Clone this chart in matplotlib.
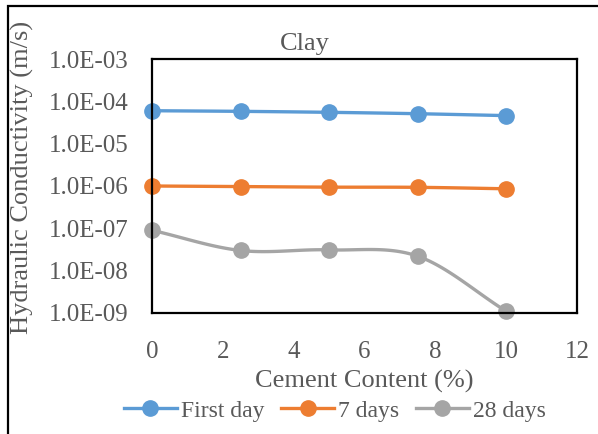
import matplotlib
matplotlib.use('Agg')
import matplotlib.pyplot as plt
import numpy as np
from matplotlib.ticker import FuncFormatter, FixedLocator
from matplotlib.patches import Rectangle

# data
cement = [0, 2.5, 5, 7.5, 10]
first_day = [6.0e-5, 5.8e-5, 5.5e-5, 5.1e-5, 4.6e-5]
days_7 = [1.0e-6, 0.97e-6, 0.94e-6, 0.93e-6, 0.86e-6]
days_28 = [9.0e-8, 3.0e-8, 3.1e-8, 2.2e-8, 1.1e-9]
series_names = ["First day", "7 days", "28 days"]
colors = ["#5B9BD5", "#ED7D31", "#A5A5A5"]

TEXT = "#595959"
plt.rcParams['font.family'] = ['Liberation Serif', 'DejaVu Serif']


def smooth(x, y, n=30):
    # Excel-like smoothed line: Catmull-Rom spline through points in log space
    x = np.asarray(x, float)
    ly = np.log10(np.asarray(y, float))
    px = np.concatenate([[2 * x[0] - x[1]], x, [2 * x[-1] - x[-2]]])
    py = np.concatenate([[2 * ly[0] - ly[1]], ly, [2 * ly[-1] - ly[-2]]])
    xs, ys = [], []
    for i in range(1, len(px) - 2):
        t = np.linspace(0, 1, n)
        for arr, out in ((px, xs), (py, ys)):
            p0, p1, p2, p3 = arr[i - 1], arr[i], arr[i + 1], arr[i + 2]
            out.extend(0.5 * ((2 * p1) + (-p0 + p2) * t
                              + (2 * p0 - 5 * p1 + 4 * p2 - p3) * t ** 2
                              + (-p0 + 3 * p1 - 3 * p2 + p3) * t ** 3))
    return np.array(xs), 10 ** np.array(ys)


fig = plt.figure(figsize=(5.98, 4.34), dpi=100)
ax = fig.add_axes([152 / 598, 1 - 313 / 434, 425 / 598, 254 / 434])

for name, vals, c in zip(series_names, [first_day, days_7, days_28], colors):
    sx, sy = smooth(cement, vals)
    ax.plot(sx, sy, color=c, lw=2.4, solid_capstyle='round', clip_on=False)
    ax.plot(cement, vals, 'o', color=c, ms=11, clip_on=False)

ax.set_yscale('log')
ax.set_ylim(1e-9, 1e-3)
ax.set_xlim(0, 12)
ax.yaxis.set_major_locator(FixedLocator([10.0 ** k for k in range(-9, -2)]))
ax.yaxis.set_minor_locator(FixedLocator([]))
ax.yaxis.set_major_formatter(FuncFormatter(lambda v, p: "1.0E-%02d" % round(-np.log10(v))))
ax.set_xticks([0, 2, 4, 6, 8, 10, 12])
ax.tick_params(length=0, labelsize=18, colors=TEXT)
ax.tick_params(axis='y', pad=17)
ax.tick_params(axis='x', pad=20)
for s in ax.spines.values():
    s.set_linewidth(1.6)
    s.set_color('black')

ax.set_xlabel("Cement Content (%)", fontsize=19, color=TEXT)
ax.xaxis.set_label_coords(0.5, -0.225)
ax.set_ylabel("Hydraulic Conductivity (m/s)", fontsize=19, color=TEXT)
ax.yaxis.set_label_coords(-0.278, 0.535)
fig.text(305 / 598, 1 - 44 / 434, "Clay", fontsize=19, color=TEXT, ha='center', va='center')

handles = [plt.Line2D([], [], color=c, lw=2.4, marker='o', ms=11) for c in colors]
fig.legend(handles, series_names, loc='center', bbox_to_anchor=(0.560, 1 - 411 / 434),
           ncol=3, frameon=False, fontsize=17, handlelength=2.25, handletextpad=0.17,
           columnspacing=0.7, labelcolor=TEXT, borderpad=0)

fig.patches.append(Rectangle((8 / 598, -0.1), 1.2, 1 - 6 / 434 + 0.1,
                             transform=fig.transFigure, fill=False,
                             edgecolor='black', lw=1.6))

plt.savefig('out.png', dpi=100)
plt.close()
